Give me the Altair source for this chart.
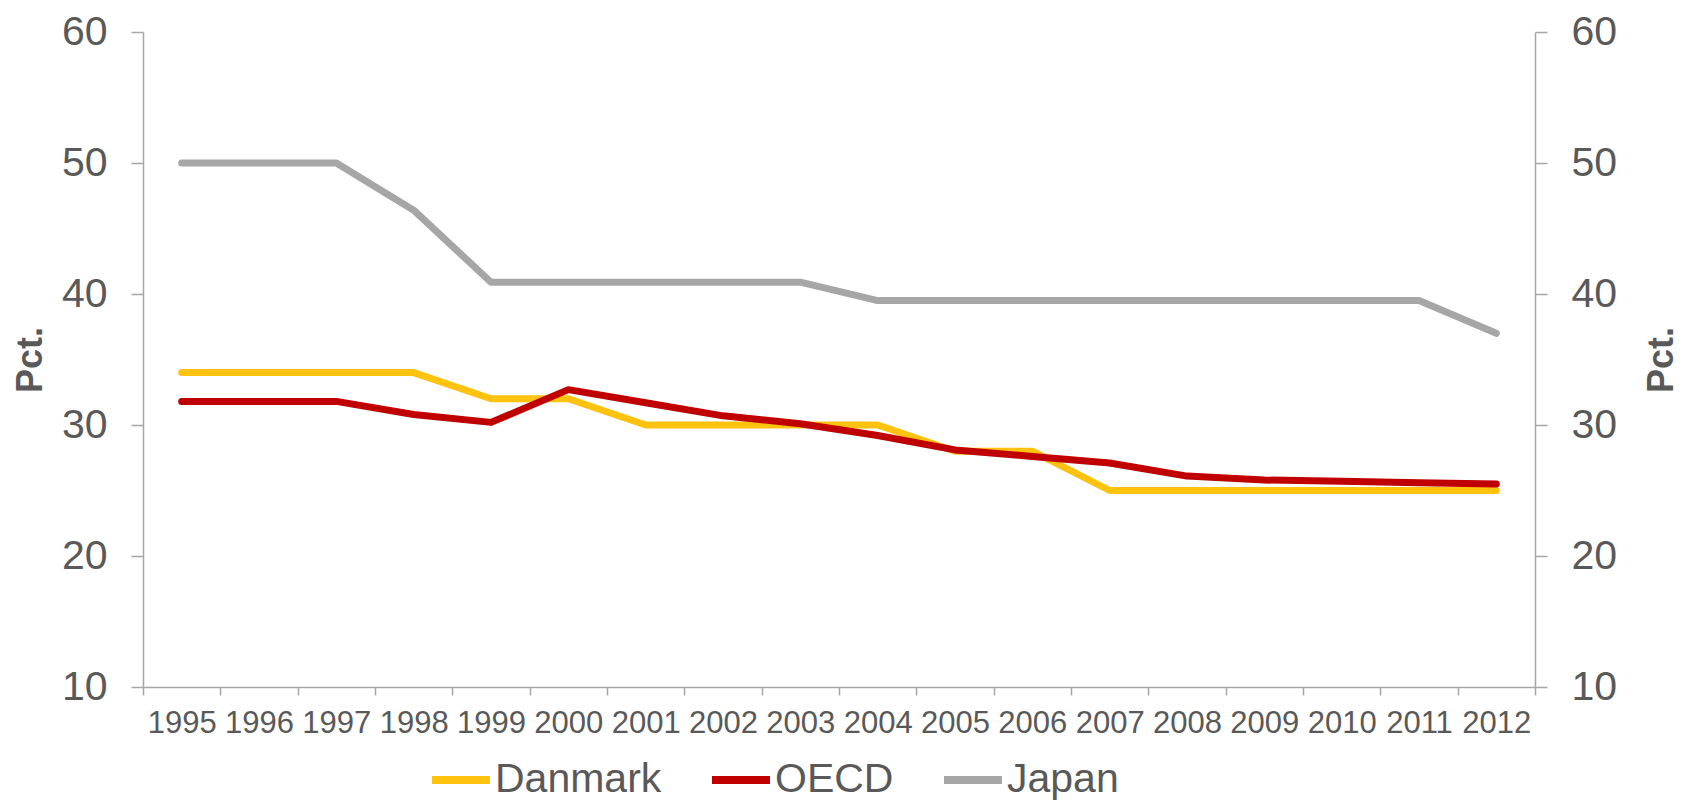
import altair as alt
import pandas as pd

years = ["1995", "1996", "1997", "1998", "1999", "2000", "2001", "2002", "2003",
         "2004", "2005", "2006", "2007", "2008", "2009", "2010", "2011", "2012"]
danmark = [34, 34, 34, 34, 32, 32, 30, 30, 30, 30, 28, 28, 25, 25, 25, 25, 25, 25]
oecd = [31.8, 31.8, 31.8, 30.8, 30.2, 32.7, 31.7, 30.7, 30.1, 29.2, 28.1, 27.6,
        27.1, 26.1, 25.8, 25.7, 25.6, 25.5]
japan = [50, 50, 50, 46.4, 40.9, 40.9, 40.9, 40.9, 40.9, 39.5, 39.5, 39.5,
         39.5, 39.5, 39.5, 39.5, 39.5, 37.0]
series_names = ["Danmark", "OECD", "Japan"]
series_colors = ["#FFC20E", "#C00000", "#A6A6A6"]
y_ticks = [10, 20, 30, 40, 50, 60]

rows = []
for name, vals in zip(series_names, [danmark, oecd, japan]):
    for yr, v in zip(years, vals):
        rows.append({"year": yr, "value": v, "series": name})
df = pd.DataFrame(rows)

FONT = "Liberation Sans"
TXT = "#595959"
AX = "#A6A6A6"

x_scale = alt.Scale(type="band", paddingInner=0, paddingOuter=0)
y_scale = alt.Scale(domain=[10, 60], nice=False, zero=False)

x_axis = alt.Axis(title=None, labelAngle=0, tickBand="extent", labelFont=FONT,
                  labelFontSize=31, labelColor=TXT, labelPadding=13, tickSize=8,
                  tickColor=AX, domainColor=AX, domainWidth=1.5, tickWidth=1.5,
                  grid=False, labelOverlap=False)
x_enc = alt.X("year:O", bandPosition=0.5, scale=x_scale, sort=years, axis=x_axis)

left_axis = alt.Axis(values=y_ticks, grid=False, labelFont=FONT, labelFontSize=41,
                     labelColor=TXT, labelPadding=24, tickSize=12, tickColor=AX,
                     tickWidth=1.5, domainColor=AX, domainWidth=1.5, title="Pct.",
                     titleFont=FONT, titleFontSize=36, titleFontWeight="bold",
                     titleColor=TXT, titlePadding=12)
right_axis = alt.Axis(values=y_ticks, grid=False, orient="right", labelFont=FONT,
                      labelFontSize=41, labelColor=TXT, labelPadding=24, tickSize=12,
                      tickColor=AX, tickWidth=1.5, domainColor=AX, domainWidth=1.5,
                      title="Pct.", titleFont=FONT, titleFontSize=36,
                      titleFontWeight="bold", titleColor=TXT, titlePadding=28,
                      titleAngle=270, titleBaseline="top")

lines = alt.Chart(df).mark_line(strokeWidth=7, strokeCap="round", strokeJoin="round").encode(
    x=x_enc,
    y=alt.Y("value:Q", scale=y_scale, axis=left_axis),
    color=alt.Color(
        "series:N",
        scale=alt.Scale(domain=series_names, range=series_colors),
        legend=alt.Legend(title=None, orient="none", legendX=285, legendY=715,
                          direction="horizontal", symbolType="stroke",
                          symbolSize=3364, symbolStrokeWidth=8, labelFont=FONT,
                          labelFontSize=41, labelColor=TXT, labelOffset=1,
                          labelLimit=0, columnPadding=34, padding=0),
    ),
)

right = alt.Chart(df).mark_line(strokeOpacity=0).encode(
    x=x_enc,
    y=alt.Y("value:Q", scale=y_scale, axis=right_axis),
    detail="series:N",
)

chart = alt.layer(lines, right).resolve_scale(y="independent").properties(
    width=1392, height=655,
    autosize=alt.AutoSizeParams(type="none"),
    padding={"left": 135, "top": 24, "right": 145, "bottom": 113},
    background="white",
).configure_view(stroke=None)

chart.save("out.html", embed_options={"renderer": "svg", "actions": False})
